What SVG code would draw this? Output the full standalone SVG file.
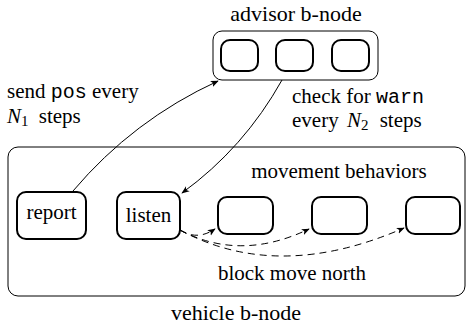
<svg xmlns="http://www.w3.org/2000/svg" width="466" height="327" viewBox="0 0 466 327">
<style>
.t{font-family:'Liberation Serif','Times New Roman',Times,serif;font-size:21px;fill:#000}
.lg{font-size:22px}
.mono{font-family:'Liberation Mono','Courier New',monospace;font-size:20px}
.it{font-style:italic}
.sub{font-size:15px}
.outer{fill:none;stroke:#000;stroke-width:1}
.box{fill:#fff;stroke:#000;stroke-width:2}
.conn{fill:none;stroke:#000;stroke-width:1}
.dash{stroke-dasharray:7 5}
</style>
<defs>
<marker id="arr" viewBox="0 0 10 10" refX="9" refY="5" markerWidth="8" markerHeight="8" orient="auto" markerUnits="userSpaceOnUse">
<path d="M0,1 L10,5 L0,9 L2.5,5 Z" fill="#000"/>
</marker>
</defs>
<g id="vehicle">
<rect class="outer" x="8" y="147" width="457" height="149" rx="10"/>
<text class="t lg" x="236" y="320" text-anchor="middle">vehicle b-node</text>
<text class="t" x="339" y="178" text-anchor="middle">movement behaviors</text>
</g>
<g id="advisor">
<rect class="outer" x="213" y="31" width="165" height="49" rx="9"/>
<text class="t lg" x="296" y="21" text-anchor="middle">advisor b-node</text>
<rect class="box" x="221" y="40" width="37" height="31" rx="9"/>
<rect class="box" x="276" y="40" width="37" height="31" rx="9"/>
<rect class="box" x="332" y="40" width="37" height="31" rx="9"/>
</g>
<g id="report">
<rect class="box" x="17" y="192" width="69" height="47" rx="9"/>
<text class="t" x="51.5" y="219" text-anchor="middle">report</text>
</g>
<g id="listen">
<rect class="box" x="117" y="192" width="63" height="47" rx="9"/>
<text class="t" x="148.5" y="222" text-anchor="middle">listen</text>
</g>
<g id="move1"><rect class="box" x="218" y="197" width="55" height="37" rx="9"/></g>
<g id="move2"><rect class="box" x="312" y="197" width="55" height="37" rx="9"/></g>
<g id="move3"><rect class="box" x="406" y="197" width="54" height="37" rx="9"/></g>
<g id="connectors">
<path class="conn" d="M73,191 Q133,120 218,81" marker-end="url(#arr)"/>
<path class="conn" d="M282,80 Q244,148 182,193" marker-end="url(#arr)"/>
<path class="conn dash" d="M180,230 Q197,241 215,229" marker-end="url(#arr)"/>
<path class="conn dash" d="M180,230 Q240,262 309,229" marker-end="url(#arr)"/>
<path class="conn dash" d="M180,230 Q278,283 404,228" marker-end="url(#arr)"/>
</g>
<g id="labels">
<text class="t" x="7" y="98">send <tspan class="mono">pos</tspan> every</text>
<text class="t" x="7" y="123"><tspan class="it">N</tspan><tspan class="sub" dy="3">1</tspan><tspan dy="-3" dx="5"> steps</tspan></text>
<text class="t" x="292" y="103">check for <tspan class="mono">warn</tspan></text>
<text class="t" x="292" y="127">every <tspan class="it" dx="3">N</tspan><tspan class="sub" dy="3">2</tspan><tspan dy="-3" dx="6"> steps</tspan></text>
<text class="t" x="292" y="280" text-anchor="middle">block move north</text>
</g>
</svg>
